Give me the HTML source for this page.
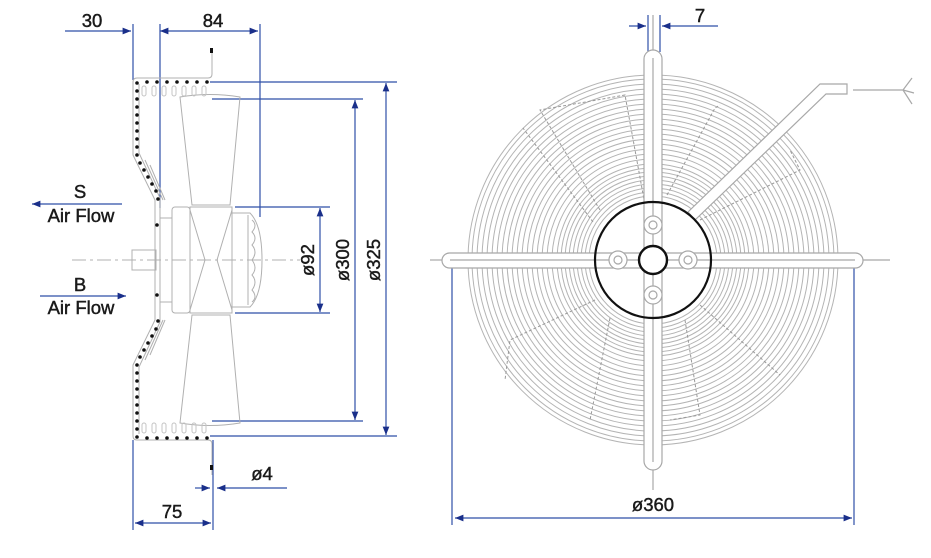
<!DOCTYPE html>
<html><head><meta charset="utf-8"><style>
html,body{margin:0;padding:0;background:#fff}
svg{display:block}
text{font-family:"Liberation Sans",Arial,sans-serif;fill:#1a1a1a;stroke:#1a1a1a;stroke-width:0.45}
</style></head><body>
<svg width="931" height="558" viewBox="0 0 931 558" xmlns="http://www.w3.org/2000/svg">
<defs>
<marker id="a" viewBox="0 0 10 10" refX="10" refY="5" markerWidth="7" markerHeight="7" orient="auto-start-reverse"><path d="M0,1 L10,5 L0,9 z" fill="#1a2f8a"/></marker>
</defs>
<g stroke="#2f4fa8" stroke-width="1.2" fill="none">
<line x1="65" y1="31" x2="131" y2="31" marker-end="url(#a)"/>
<line x1="133" y1="24" x2="133" y2="80"/>
<line x1="160" y1="24" x2="160" y2="208"/>
<line x1="160" y1="31" x2="258" y2="31" marker-start="url(#a)" marker-end="url(#a)"/>
<line x1="260" y1="24" x2="260" y2="217"/>
<line x1="210" y1="82" x2="397" y2="82"/>
<line x1="212" y1="99" x2="363" y2="99"/>
<line x1="212" y1="421" x2="363" y2="421"/>
<line x1="210" y1="436" x2="397" y2="436"/>
<line x1="235" y1="207" x2="330" y2="207"/>
<line x1="235" y1="313" x2="330" y2="313"/>
<line x1="320" y1="208" x2="320" y2="312" marker-start="url(#a)" marker-end="url(#a)"/>
<line x1="355" y1="100" x2="355" y2="420" marker-start="url(#a)" marker-end="url(#a)"/>
<line x1="386" y1="83" x2="386" y2="435" marker-start="url(#a)" marker-end="url(#a)"/>
<line x1="32" y1="204" x2="122" y2="204" marker-start="url(#a)"/>
<line x1="40" y1="296" x2="126" y2="296" marker-end="url(#a)"/>
<line x1="133" y1="440" x2="133" y2="530"/>
<line x1="213" y1="440" x2="213" y2="530"/>
<line x1="135" y1="523" x2="211" y2="523" marker-start="url(#a)" marker-end="url(#a)"/>
<line x1="195" y1="488" x2="210" y2="488" marker-end="url(#a)"/>
<line x1="287" y1="488" x2="217" y2="488" marker-end="url(#a)"/>
<line x1="648" y1="15" x2="648" y2="52"/>
<line x1="660" y1="15" x2="660" y2="52"/>
<line x1="629" y1="26" x2="646" y2="26" marker-end="url(#a)"/>
<line x1="718" y1="26" x2="662" y2="26" marker-end="url(#a)"/>
<line x1="452" y1="262" x2="452" y2="525"/>
<line x1="854" y1="262" x2="854" y2="525"/>
<line x1="455" y1="518" x2="852" y2="518" marker-start="url(#a)" marker-end="url(#a)"/>
</g>
<g font-size="18.5" text-anchor="middle">
<text x="92" y="27">30</text>
<text x="213" y="27">84</text>
<text x="80" y="198">S</text>
<text x="81" y="222">Air Flow</text>
<text x="80" y="291">B</text>
<text x="81" y="314">Air Flow</text>
<text x="262" y="480">ø4</text>
<text x="172" y="518">75</text>
<text x="700" y="22">7</text>
<text x="653" y="511">ø360</text>
<text transform="translate(314,260) rotate(-90)">ø92</text>
<text transform="translate(349,260) rotate(-90)">ø300</text>
<text transform="translate(380,260) rotate(-90)">ø325</text>
</g>
<g stroke="#b0b0b0" stroke-width="1" fill="none">
<line x1="72" y1="260" x2="300" y2="260" stroke-dasharray="14,4,3,4"/>
<path d="M212,48 V74 Q212,78 208,78 H137 Q133,78 133,82 V155 L155,200 V320 L133,365 V436 Q133,440 137,440 H208 Q212,440 212,444 V475"/>
<path d="M139,84 V153 L160,198 V322 L139,367 V434"/>
<path d="M145,160 L163,200 M150,165 L165,200 M145,360 L163,320 M150,355 L165,320"/>
<path d="M180,97 Q210,92 240,97 L230,205 L192,205 Z"/>
<path d="M180,423 Q210,428 240,423 L230,315 L192,315 Z"/>
<rect x="172" y="207" width="18" height="106" rx="3"/>
<rect x="160" y="218" width="12" height="84"/>
<rect x="190" y="207" width="42" height="106"/>
<path d="M190,210 L205,260 L190,310 M232,210 L217,260 L232,310"/>
<path d="M232,213 H250 Q262,225 262,260 Q262,295 250,307 H232"/>
<path d="M248,215 V305 M252,220 Q258,225 252,232 Q258,238 252,245 Q258,252 252,260 Q258,268 252,275 Q258,282 252,290 Q258,297 252,302"/>
<rect x="132" y="250" width="24" height="20"/>
<g stroke="#c4c4c4"><rect x="142" y="86" width="4" height="10" rx="2"/><rect x="152" y="86" width="4" height="10" rx="2"/><rect x="162" y="86" width="4" height="10" rx="2"/><rect x="172" y="86" width="4" height="10" rx="2"/><rect x="182" y="86" width="4" height="10" rx="2"/><rect x="192" y="86" width="4" height="10" rx="2"/><rect x="202" y="86" width="4" height="10" rx="2"/>
<rect x="142" y="423" width="4" height="10" rx="2"/><rect x="152" y="423" width="4" height="10" rx="2"/><rect x="162" y="423" width="4" height="10" rx="2"/><rect x="172" y="423" width="4" height="10" rx="2"/><rect x="182" y="423" width="4" height="10" rx="2"/><rect x="192" y="423" width="4" height="10" rx="2"/><rect x="202" y="423" width="4" height="10" rx="2"/></g>
</g>
<g fill="#111">
<rect x="210" y="48" width="3" height="5"/><rect x="210" y="465" width="3" height="5"/>
<g id="dots">
<circle cx="137" cy="83" r="1.8"/><circle cx="147" cy="82" r="1.8"/><circle cx="157" cy="82" r="1.8"/><circle cx="167" cy="82" r="1.8"/><circle cx="177" cy="82" r="1.8"/><circle cx="187" cy="82" r="1.8"/><circle cx="197" cy="82" r="1.8"/><circle cx="207" cy="82" r="1.8"/>
<circle cx="137" cy="91" r="1.8"/><circle cx="137" cy="99" r="1.8"/><circle cx="137" cy="107" r="1.8"/><circle cx="137" cy="115" r="1.8"/><circle cx="137" cy="123" r="1.8"/><circle cx="137" cy="131" r="1.8"/><circle cx="137" cy="139" r="1.8"/><circle cx="137" cy="147" r="1.8"/><circle cx="137" cy="155" r="1.8"/>
<circle cx="140" cy="163" r="1.8"/><circle cx="144" cy="170" r="1.8"/><circle cx="148" cy="177" r="1.8"/><circle cx="152" cy="184" r="1.8"/><circle cx="156" cy="191" r="1.8"/><circle cx="158" cy="199" r="1.8"/><circle cx="157" cy="225" r="1.8"/>
</g>
<use href="#dots" transform="translate(0,520) scale(1,-1)"/>
</g>
<g stroke="#b4b4b4" stroke-width="1" fill="none">
<circle cx="653" cy="260" r="185"/><circle cx="653" cy="260" r="181"/><circle cx="653" cy="260" r="176"/><circle cx="653" cy="260" r="171"/><circle cx="653" cy="260" r="166"/><circle cx="653" cy="260" r="161"/><circle cx="653" cy="260" r="156"/><circle cx="653" cy="260" r="151"/><circle cx="653" cy="260" r="146"/><circle cx="653" cy="260" r="141"/><circle cx="653" cy="260" r="136"/><circle cx="653" cy="260" r="131"/><circle cx="653" cy="260" r="126"/><circle cx="653" cy="260" r="121"/><circle cx="653" cy="260" r="116"/><circle cx="653" cy="260" r="111"/><circle cx="653" cy="260" r="106"/><circle cx="653" cy="260" r="101"/><circle cx="653" cy="260" r="96"/><circle cx="653" cy="260" r="92"/><circle cx="653" cy="260" r="88"/><circle cx="653" cy="260" r="84"/><circle cx="653" cy="260" r="80"/><circle cx="653" cy="260" r="76"/><circle cx="653" cy="260" r="72"/><circle cx="653" cy="260" r="68"/><circle cx="653" cy="260" r="64"/>
<g stroke="#999" stroke-dasharray="3,2">
<path d="M593,222 L523,128 M600,210 L540,110 L625,95 L645,205"/>
<path d="M667,195 L715,108 L720,105 M700,220 L800,170 L790,150"/>
<path d="M595,300 L510,340 L505,380 M610,318 L590,420"/>
<path d="M700,305 L780,375 M685,320 L700,415 L670,420"/>
</g>
</g>
<circle cx="653" cy="260" r="57" fill="#fff"/>
<g fill="#fff" stroke="#a8a8a8" stroke-width="1.2">
<path d="M823,89 H847 M853,90 H903 M903,90 L912,78 M903,90 L914,93 M903,90 L912,104" fill="none"/>
<path d="M688,212 L820,84 H847 V94 H826 L695,220 Z"/>
<rect x="442" y="253" width="421" height="15" rx="7.5"/>
<rect x="644" y="50" width="18" height="420" rx="9"/>
<line x1="653" y1="15" x2="653" y2="50"/>
<line x1="653" y1="470" x2="653" y2="490"/>
<line x1="430" y1="260" x2="442" y2="260"/>
<line x1="863" y1="260" x2="890" y2="260"/>
<line x1="450" y1="260" x2="855" y2="260"/>
<line x1="653" y1="58" x2="653" y2="462"/>
<circle cx="653" cy="225" r="9"/><circle cx="653" cy="225" r="4"/>
<circle cx="653" cy="295" r="9"/><circle cx="653" cy="295" r="4"/>
<circle cx="618" cy="260" r="9"/><circle cx="618" cy="260" r="4"/>
<circle cx="688" cy="260" r="9"/><circle cx="688" cy="260" r="4"/>
</g>
<circle cx="653" cy="260" r="58" fill="none" stroke="#111" stroke-width="2.2"/>
<circle cx="653" cy="260" r="14" fill="#fff" stroke="#111" stroke-width="2.4"/>
</svg>
</body></html>
